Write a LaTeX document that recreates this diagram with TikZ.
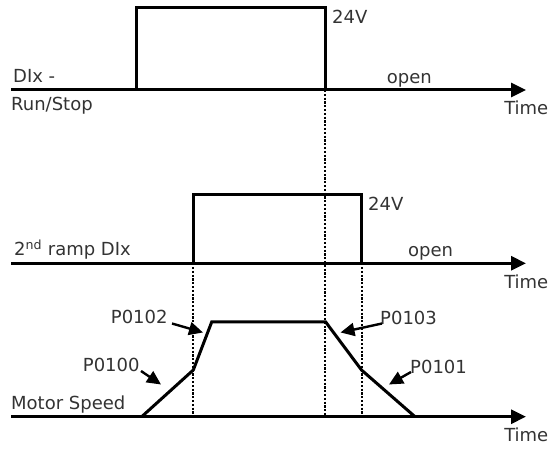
\documentclass[tikz,border=0pt]{standalone}
\usepackage{fontspec}
\setmainfont{DejaVu Sans}
\usetikzlibrary{arrows.meta}
\begin{document}
\begin{tikzpicture}[x=1pt,y=1pt,
  sig/.style={line width=3pt, line join=miter},
  axisline/.style={line width=3pt, -{Triangle[length=15pt,width=14pt]}},
  guide/.style={line width=1.8pt, dash pattern=on 2.2pt off 1.6pt},
  lbl/.style={inner sep=0pt, text=black!80, font=\fontsize{18}{20}\selectfont, anchor=base west},
  rlbl/.style={lbl, anchor=base east},
  callout/.style={line width=2.4pt, -{Triangle[length=14pt,width=13pt]}}]
\useasboundingbox (0,0) rectangle (549,450);

% ---------- top signal: DIx Run/Stop ----------
\coordinate (a1s) at (11,360);
\coordinate (a1e) at (526,360);
\draw[axisline] (a1s) -- (a1e);
\coordinate (p1a) at (136,360);
\coordinate (p1b) at (136,442);
\coordinate (p1c) at (325,442);
\coordinate (p1d) at (325,360);
\draw[sig] (p1a) -- (p1b) -- (p1c) -- (p1d);
\node[lbl] (t24a) at (332,426) {24V};
\node[lbl] (topen1) at (386.7,366.7) {open};
\node[rlbl] (ttime1) at (548.5,335) {Time};
\node[lbl] (tdix) at (13,367.3) {DIx -};
\node[lbl] (trun) at (11,339.3) {Run/Stop};

% ---------- middle signal: 2nd ramp DIx ----------
\coordinate (a2s) at (11,186.7);
\coordinate (a2e) at (526,186.7);
\draw[axisline] (a2s) -- (a2e);
\coordinate (p2a) at (193.3,186.7);
\coordinate (p2b) at (193.3,255);
\coordinate (p2c) at (361.7,255);
\coordinate (p2d) at (361.7,186.7);
\draw[sig] (p2a) -- (p2b) -- (p2c) -- (p2d);
\node[lbl] (t24b) at (368,239) {24V};
\node[lbl] (topen2) at (408,193.4) {open};
\node[rlbl] (ttime2) at (548.5,161.7) {Time};
\node[lbl] (tramp) at (14,194) {2\textsuperscript{nd} ramp DIx};

% ---------- bottom: motor speed ----------
\coordinate (a3s) at (11,33.3);
\coordinate (a3e) at (526,33.3);
\draw[axisline] (a3s) -- (a3e);
\coordinate (s0) at (141.7,33.3);
\coordinate (s1) at (193.3,80);
\coordinate (s2) at (211.7,128);
\coordinate (s3) at (325.7,128);
\coordinate (s4) at (361.5,80);
\coordinate (s5) at (415,33.3);
\draw[sig] (s0) -- (s1) -- (s2) -- (s3) -- (s4) -- (s5);
\node[lbl] (tmotor) at (11,40.7) {Motor Speed};
\node[rlbl] (ttime3) at (548.5,8.3) {Time};

% ---------- dotted guides ----------
\coordinate (g1t) at (325,360);
\coordinate (g1b) at (325,33.3);
\coordinate (g2t) at (193.3,186.7);
\coordinate (g2b) at (193.3,33.3);
\coordinate (g3t) at (361.7,186.7);
\coordinate (g3b) at (361.7,33.3);
\draw[guide] (g1t) -- (g1b);
\draw[guide] (g2t) -- (g2b);
\draw[guide] (g3t) -- (g3b);

% ---------- parameter callouts ----------
\node[lbl] (p0102) at (110.7,126.7) {P0102};
\node[lbl] (p0100) at (82.7,78.3) {P0100};
\node[lbl] (p0103) at (380,125) {P0103};
\node[lbl] (p0101) at (410,76) {P0101};
\coordinate (c102s) at (172,126.5);
\coordinate (c102e) at (203,117.5);
\coordinate (c100s) at (141,79);
\coordinate (c100e) at (161,65.5);
\coordinate (c103s) at (382,126.5);
\coordinate (c103e) at (340.5,117.5);
\coordinate (c101s) at (411,78);
\coordinate (c101e) at (389,65.5);
\draw[callout] (c102s) -- (c102e);
\draw[callout] (c100s) -- (c100e);
\draw[callout] (c103s) -- (c103e);
\draw[callout] (c101s) -- (c101e);
\end{tikzpicture}
\end{document}
